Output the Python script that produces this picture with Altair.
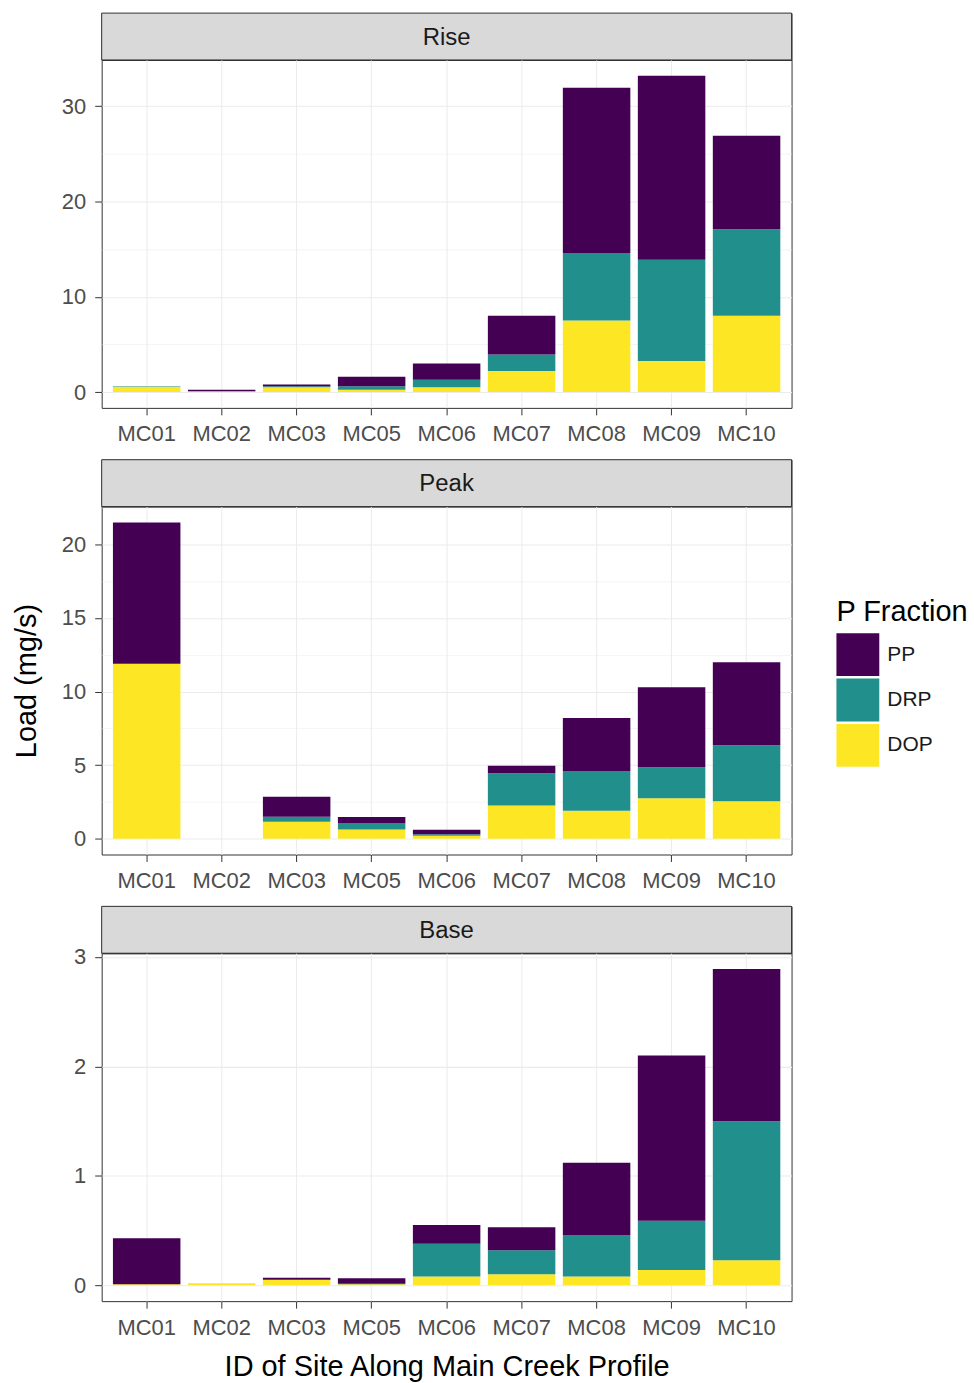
import altair as alt
import pandas as pd

# Sites along the main creek profile, upstream to downstream
sites = ["MC01", "MC02", "MC03", "MC05", "MC06", "MC07", "MC08", "MC09", "MC10"]
fractions = ["PP", "DRP", "DOP"]
fraction_colors = ["#440154", "#21908C", "#FDE725"]

# Phosphorus loads (mg/s) per flow condition
rise_pp = [0.0, 0.15, 0.2, 1.0, 1.7, 4.05, 17.35, 19.3, 9.8]
rise_drp = [0.05, 0.05, 0.1, 0.35, 0.8, 1.75, 7.1, 10.65, 9.1]
rise_dop = [0.55, 0.05, 0.5, 0.25, 0.5, 2.2, 7.5, 3.25, 8.0]

peak_pp = [9.6, 0.0, 1.35, 0.4, 0.3, 0.5, 3.6, 5.45, 5.65]
peak_drp = [0.0, 0.0, 0.35, 0.45, 0.1, 2.2, 2.7, 2.1, 3.8]
peak_dop = [11.9, 0.0, 1.15, 0.62, 0.2, 2.25, 1.9, 2.75, 2.55]

base_pp = [0.42, 0.0, 0.02, 0.05, 0.17, 0.21, 0.66, 1.51, 1.39]
base_drp = [0.0, 0.0, 0.0, 0.005, 0.3, 0.22, 0.38, 0.45, 1.27]
base_dop = [0.01, 0.02, 0.05, 0.01, 0.08, 0.1, 0.08, 0.14, 0.23]

# Axis breaks (labelled) and minor grid breaks
rise_breaks, rise_minor = [0, 10, 20, 30], [5, 15, 25]
peak_breaks, peak_minor = [0, 5, 10, 15, 20], [2.5, 7.5, 12.5, 17.5, 22.5]
base_breaks, base_minor = [0, 1, 2, 3], [0.5, 1.5, 2.5]

FONT = "Liberation Sans"
W, H, STRIP_H = 692, 349, 47


def panel(name, pp, drp, dop, breaks, minor, y_title=None, x_title=None):
    rows = []
    for i, s in enumerate(sites):
        for rank, (frac, vals) in enumerate([("DOP", dop), ("DRP", drp), ("PP", pp)]):
            rows.append({"site": s, "fraction": frac, "load": vals[i], "rank": rank})
    df = pd.DataFrame(rows)

    top = max(a + b + c for a, b, c in zip(pp, drp, dop))
    pad = 0.05 * top
    is_major = " || ".join(f"datum.value === {v}" for v in breaks)

    y_axis = alt.Axis(
        values=sorted(breaks + minor),
        format="d",
        labelExpr=f"({is_major}) ? datum.label : ''",
        tickOpacity={"condition": {"test": is_major, "value": 1}, "value": 0},
        gridWidth={"condition": {"test": is_major, "value": 1.1}, "value": 0.55},
        title=y_title,
        titlePadding=20,
    )
    x_axis = alt.Axis(title=x_title, bandPosition=0.5, labelAngle=0, titlePadding=15)

    bars = alt.Chart(df).mark_bar().encode(
        x=alt.X("site:N", sort=sites, axis=x_axis,
                scale=alt.Scale(paddingInner=0.1, paddingOuter=0.15)),
        y=alt.Y("load:Q", stack="zero", axis=y_axis,
                scale=alt.Scale(domain=[-pad, top + pad], nice=False, zero=False)),
        color=alt.Color(
            "fraction:N",
            scale=alt.Scale(domain=fractions, range=fraction_colors),
            legend=alt.Legend(title="P Fraction", orient="none", legendX=737, legendY=587),
        ),
        order=alt.Order("rank:Q", sort="ascending"),
    ).properties(width=W, height=H)

    strip_df = pd.DataFrame({"panel": [name]})
    strip_bg = alt.Chart(strip_df).mark_rect(fill="#d9d9d9", stroke="#333333", strokeWidth=1).encode(
        x=alt.value(0), x2=alt.value(W), y=alt.value(0), y2=alt.value(STRIP_H)
    )
    strip_txt = alt.Chart(strip_df).mark_text(fontSize=24, color="#1a1a1a", font=FONT).encode(
        text="panel:N", x=alt.value(W / 2), y=alt.value(STRIP_H / 2 + 1)
    )
    strip = alt.layer(strip_bg, strip_txt).properties(width=W, height=STRIP_H)
    # strip sits directly on the panel, whatever the y labels overhang
    return alt.vconcat(strip, bars, spacing=0, bounds="flush")


chart = alt.vconcat(
    panel("Rise", rise_pp, rise_drp, rise_dop, rise_breaks, rise_minor),
    panel("Peak", peak_pp, peak_drp, peak_dop, peak_breaks, peak_minor, y_title="Load (mg/s)"),
    panel("Base", base_pp, base_drp, base_dop, base_breaks, base_minor,
          x_title="ID of Site Along Main Creek Profile"),
    spacing=13,
).properties(
    padding={"left": 12, "top": 10, "right": 5, "bottom": 5}
).configure(
    font=FONT, background="white"
).configure_view(
    stroke="#333333", strokeWidth=1
).configure_axis(
    domain=False,
    grid=True,
    gridColor="#ebebeb",
    tickColor="#333333",
    tickSize=7,
    labelPadding=9,
    labelFont=FONT,
    labelFontSize=22,
    labelColor="#4d4d4d",
    titleFont=FONT,
    titleFontSize=29,
    titleFontWeight="normal",
    titleColor="#000000",
).configure_legend(
    titleFont=FONT,
    titleFontSize=29,
    titleFontWeight="normal",
    titleColor="#000000",
    titlePadding=6,
    labelFont=FONT,
    labelFontSize=21,
    labelColor="#1a1a1a",
    labelOffset=8,
    symbolType="square",
    symbolSize=1849,
    symbolStrokeWidth=0,
    symbolOpacity=1,
    rowPadding=2.5,
)

chart.save("out.html", embed_options={"renderer": "svg", "actions": False})
